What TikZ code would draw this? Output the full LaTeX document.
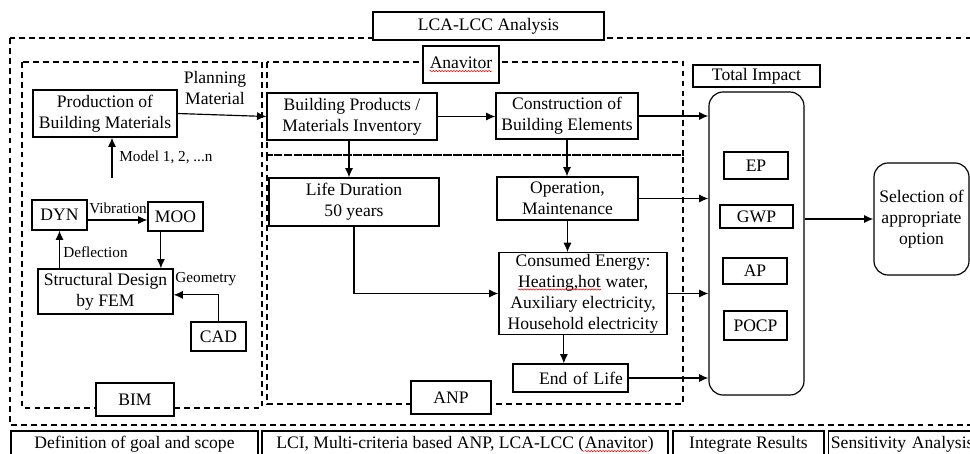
\documentclass[tikz,border=0pt]{standalone}
\usepackage{fontspec}
\setmainfont{Liberation Serif}
\usetikzlibrary{arrows.meta,calc,decorations.pathmorphing}
\newcommand{\mainfs}{\fontsize{15}{18}\selectfont}
\newcommand{\smallfs}{\fontsize{13}{15}\selectfont}
\newcommand{\spellerr}[1]{\tikz[baseline=(w.base)]{\node[inner sep=0pt, minimum width=0pt, minimum height=0pt,
    text width={}, align=left, draw=none, fill=none, anchor=center] (w) {#1};
  \draw[red, line width=0.5pt, decorate, decoration={snake,amplitude=0.5pt,segment length=2.5pt}]
  ([yshift=-2pt]w.base west) -- ([yshift=-2pt]w.base east);}}

\begin{document}
\begin{tikzpicture}[x=0.03cm, y=-0.03cm,
  box/.style={draw, line width=1pt, fill=white, inner sep=1pt, align=center, font=\mainfs},
  rbox/.style={box, rounded corners=12pt},
  lbl/.style={font=\smallfs, inner sep=1pt},
  zone/.style={draw, line width=1pt, dash pattern=on 5pt off 3.5pt},
  arr/.style={line width=1pt, -{Latex[length=8pt,width=7pt]}}]
\useasboundingbox (0,0) rectangle (970,454);
\clip (0,0) rectangle (970,454);

% dashed zones
\draw[zone] (10,38) rectangle (985,425);
\draw[zone] (22,62) rectangle (262,408);
\draw[zone] (267,62) rectangle (683,155);
\draw[zone] (267,155) rectangle (683,404);

\node[box, minimum width=6.93cm, minimum height=0.84cm] (lca) at (488.5,26) {LCA-LCC Analysis};

% BIM part
\node[box, minimum width=2.34cm, minimum height=0.99cm] (bim) at (135,399.5) {BIM};
\node[box, minimum width=4.32cm, minimum height=1.41cm] (prod) at (105,113.5) {Production of\\Building Materials};
\node[box, minimum width=1.65cm, minimum height=0.9cm] (dyn) at (59.5,215) {DYN};
\node[box, minimum width=1.65cm, minimum height=0.87cm] (moo) at (175.5,216.5) {MOO};
\node[box, minimum width=4.05cm, minimum height=1.35cm] (fem) at (105.5,291.5) {Structural Design\\by FEM};
\node[box, minimum width=1.65cm, minimum height=0.87cm] (cad) at (218.5,336.5) {CAD};
\node[font=\mainfs, align=center, inner sep=1pt] (plan) at (215,88) {Planning\\Material};
\coordinate (modelstart) at (112,178);
\node[lbl, anchor=west] (model) at (118,157) {Model 1, 2, ...n};
\node[lbl] (vib) at (118,208) {Vibration};
\node[lbl, anchor=west] (defl) at (62,252) {Deflection};
\node[lbl, anchor=west] (geo) at (174,279) {Geometry};

% Anavitor / ANP part
\node[box, minimum width=2.28cm, minimum height=1.11cm] (anv) at (461,64.5) {\spellerr{Anavitor}};
\node[box, minimum width=2.4cm, minimum height=0.99cm] (anp) at (451,397.5) {ANP};
\node[box, minimum width=5.1cm, minimum height=1.41cm] (bp) at (352,116.5) {Building Products /\\Materials Inventory};
\node[box, minimum width=4.26cm, minimum height=1.38cm] (cbe) at (567,116) {Construction of\\Building Elements};
\node[box, minimum width=5.1cm, minimum height=1.44cm] (ld) at (354,202) {Life Duration\\50 years};
\node[box, minimum width=4.23cm, minimum height=1.29cm] (om) at (567.5,198.5) {Operation,\\Maintenance};
\node[box, minimum width=5.04cm, minimum height=2.43cm] (ce) at (583,293.5)
  {Consumed Energy:\\\spellerr{Heating,hot} water,\\Auxiliary electricity,\\Household electricity};
\node[box, minimum width=3.45cm, minimum height=0.84cm, inner xsep=0.15cm, text width=3.15cm, align=right] (eol) at (570.5,378) {End of Life};

% results
\node[box, minimum width=3.81cm, minimum height=0.66cm] (tilbl) at (756.5,76) {Total Impact};
\node[rbox, minimum width=2.85cm, minimum height=9.09cm] (ti) at (756.5,243.5) {};
\node[box, minimum width=1.92cm, minimum height=0.81cm] (ep) at (756,165.5) {EP};
\node[box, minimum width=2.19cm, minimum height=0.69cm] (gwp) at (756.5,216.5) {GWP};
\node[box, minimum width=1.92cm, minimum height=0.78cm] (ap) at (755,271) {AP};
\node[box, minimum width=1.89cm, minimum height=0.87cm] (pocp) at (755.5,325.5) {POCP};
\node[rbox, minimum width=2.85cm, minimum height=3.36cm] (sel) at (921.5,219) {Selection of\\appropriate\\option};

% phases
\node[box, minimum width=7.41cm, minimum height=0.81cm] (goal) at (134.5,444.5) {Definition of goal and scope};
\node[box, minimum width=12.18cm, minimum height=0.81cm] (lci) at (465,444.5) {LCI, Multi-criteria based ANP, LCA-LCC (\spellerr{Anavitor})};
\node[box, minimum width=4.53cm, minimum height=0.81cm] (integ) at (748.5,444.5) {Integrate Results};
\node[box, anchor=west, minimum height=0.81cm, inner xsep=2pt, text width=5cm, align=left] (sens) at (828,444.5) {Sensitivity Analysis};

% arrows
\draw[arr] (prod.east) -- (bp.west);
\draw[arr] (modelstart) -- (modelstart |- prod.south);
\draw[arr] ([yshift=-0.15cm]dyn.east) -- ([yshift=-0.15cm]dyn.east -| moo.west);
\draw[arr] (dyn.south |- fem.north) -- (dyn.south);
\draw[arr] ($(moo.south west)!0.24!(moo.south east)$) coordinate (mooout) -- (mooout |- fem.north);
\draw[arr] (cad) |- ([yshift=-0.1cm]fem.east);
\draw[arr] (bp.east) -- (bp.east -| cbe.west);
\draw[arr] ([xshift=-0.09cm]bp.south) -- ([xshift=-0.09cm]bp.south |- ld.north);
\draw[arr] (cbe.south) -- (cbe.south |- om.north);
\draw[arr] (cbe.east) -- (cbe.east -| ti.west);
\draw[arr] (om.east) -- (om.east -| ti.west);
\draw[arr] (om.south) -- (om.south |- ce.north);
\draw[arr] (ld.south) |- (ce.west);
\draw[arr] (ce.east) -- (ce.east -| ti.west);
\draw[arr] ([xshift=-0.2cm]eol.north |- ce.south) -- ([xshift=-0.2cm]eol.north);
\draw[arr] (eol.east) -- (eol.east -| ti.west);
\draw[arr] (sel.west -| ti.east) -- (sel.west);
\end{tikzpicture}
\end{document}
